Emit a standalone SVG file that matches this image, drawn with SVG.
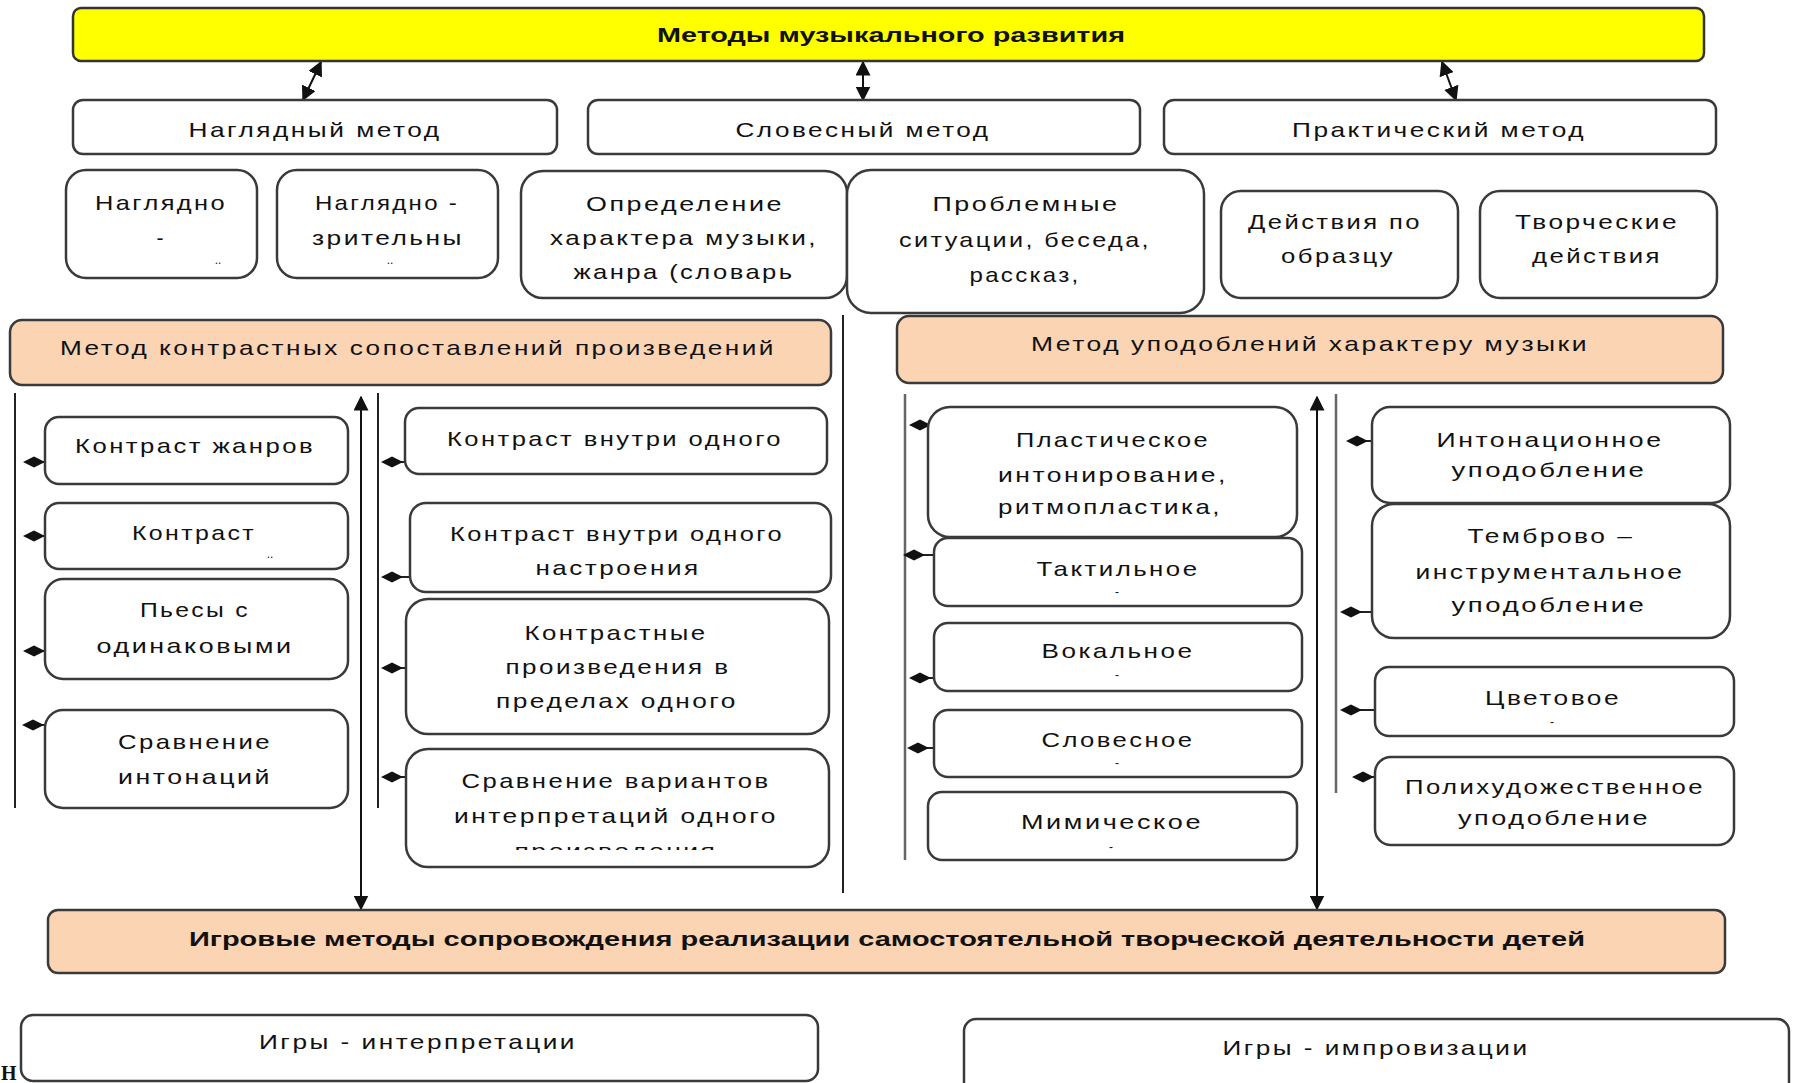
<svg xmlns="http://www.w3.org/2000/svg" xmlns:xlink="http://www.w3.org/1999/xlink" width="1793" height="1083" viewBox="0 0 1793 1083">
<style>
.bx{fill:#fff;stroke:#3a3a3a;stroke-width:2.5}
.yl{fill:#ffff00;stroke:#333;stroke-width:2.5}
.pc{fill:#fbd4b4;stroke:#3a3a3a;stroke-width:2.5}
.t{font-family:"Liberation Sans",Arial,sans-serif;font-size:21px;letter-spacing:2px;text-anchor:middle;fill:#111}
.b{font-weight:bold;font-size:20px;letter-spacing:0}
.s{font-family:"Liberation Sans",Arial,sans-serif;font-size:12px;text-anchor:middle;fill:#111}
.ln{stroke:#222;stroke-width:2;fill:none}
.lg{stroke:#666;stroke-width:2.5;fill:none}
.ar{stroke:#111;stroke-width:2;fill:none;marker-start:url(#ah);marker-end:url(#ah)}
</style>
<defs>
<marker id="ah" viewBox="0 0 10 10" refX="9" refY="5" markerUnits="userSpaceOnUse" markerWidth="15" markerHeight="15" orient="auto-start-reverse">
<path d="M0,0 L10,5 L0,10 Z" fill="#111"/>
</marker>
<path id="dm" d="M-11,0 L0,-5.5 L11,0 L0,5.5 Z" fill="#111"/>
<clipPath id="cl1"><rect x="400" y="740" width="440" height="110"/></clipPath>
</defs>
<rect width="1793" height="1083" fill="#fff"/>

<g id="connectors">
<line class="ar" x1="321" y1="62" x2="303" y2="100"/>
<line class="ar" x1="863" y1="62" x2="863" y2="100"/>
<line class="ar" x1="1442" y1="62" x2="1456" y2="100"/>
<line class="ln" x1="15" y1="393" x2="15" y2="808"/>
<line class="ln" x1="378" y1="393" x2="378" y2="808"/>
<line class="ln" x1="843" y1="315" x2="843" y2="893"/>
<line class="lg" x1="905" y1="394" x2="905" y2="860"/>
<line class="lg" x1="1336" y1="394" x2="1336" y2="793"/>
<line class="ar" x1="361" y1="397" x2="361" y2="909"/>
<line class="ar" x1="1317" y1="397" x2="1317" y2="909"/>
<g class="ln">
<line x1="34" y1="462" x2="46" y2="462"/><line x1="34" y1="536" x2="46" y2="536"/>
<line x1="34" y1="651" x2="46" y2="651"/><line x1="33" y1="725" x2="46" y2="725"/>
<line x1="392" y1="462" x2="406" y2="462"/><line x1="392" y1="577" x2="411" y2="577"/>
<line x1="392" y1="668" x2="407" y2="668"/><line x1="392" y1="777" x2="407" y2="777"/>
<line x1="920" y1="425" x2="929" y2="425"/><line x1="914" y1="555" x2="935" y2="555"/>
<line x1="920" y1="678" x2="935" y2="678"/><line x1="918" y1="748" x2="935" y2="748"/>
<line x1="1355" y1="441" x2="1373" y2="441"/><line x1="1351" y1="612" x2="1373" y2="612"/>
<line x1="1351" y1="710" x2="1376" y2="710"/><line x1="1363" y1="777" x2="1376" y2="777"/>
</g>
<use xlink:href="#dm" x="34" y="462"/><use xlink:href="#dm" x="34" y="536"/>
<use xlink:href="#dm" x="34" y="651"/><use xlink:href="#dm" x="33" y="725"/>
<use xlink:href="#dm" x="392" y="462"/><use xlink:href="#dm" x="392" y="577"/>
<use xlink:href="#dm" x="392" y="668"/><use xlink:href="#dm" x="392" y="777"/>
<use xlink:href="#dm" x="920" y="425"/><use xlink:href="#dm" x="914" y="555"/>
<use xlink:href="#dm" x="920" y="678"/><use xlink:href="#dm" x="918" y="748"/>
<use xlink:href="#dm" x="1357" y="441"/><use xlink:href="#dm" x="1351" y="612"/>
<use xlink:href="#dm" x="1351" y="710"/><use xlink:href="#dm" x="1363" y="777"/>
</g>

<g id="title"><rect class="yl" x="73" y="8" width="1631" height="53" rx="8"/>
<text class="t b" x="891" y="42" textLength="468" lengthAdjust="spacingAndGlyphs">Методы музыкального развития</text></g>

<g id="naglyadny"><rect class="bx" x="73" y="100" width="484" height="54" rx="10"/>
<text class="t" x="315" y="137" textLength="253" lengthAdjust="spacingAndGlyphs">Наглядный метод</text></g>
<g id="slovesny"><rect class="bx" x="588" y="100" width="552" height="54" rx="10"/>
<text class="t" x="863" y="137" textLength="255" lengthAdjust="spacingAndGlyphs">Словесный метод</text></g>
<g id="praktich"><rect class="bx" x="1164" y="100" width="552" height="54" rx="10"/>
<text class="t" x="1439" y="137" textLength="294" lengthAdjust="spacingAndGlyphs">Практический метод</text></g>

<g id="n1"><rect class="bx" x="66" y="170" width="191" height="108" rx="20"/>
<text class="t" x="161" y="210" textLength="132" lengthAdjust="spacingAndGlyphs">Наглядно</text>
<text class="t" x="161" y="245">-</text>
<text class="s" x="218" y="264">..</text></g>
<g id="n2"><rect class="bx" x="277" y="170" width="221" height="108" rx="20"/>
<text class="t" x="387" y="210" textLength="144" lengthAdjust="spacingAndGlyphs">Наглядно -</text>
<text class="t" x="388" y="245" textLength="152" lengthAdjust="spacingAndGlyphs">зрительны</text>
<text class="s" x="390" y="264">..</text></g>
<g id="n3"><rect class="bx" x="521" y="171" width="326" height="127" rx="22"/>
<text class="t" x="685" y="211" textLength="198" lengthAdjust="spacingAndGlyphs">Определение</text>
<text class="t" x="684" y="245" textLength="268" lengthAdjust="spacingAndGlyphs">характера музыки,</text>
<text class="t" x="684" y="279" textLength="221" lengthAdjust="spacingAndGlyphs">жанра (словарь</text></g>
<g id="n4"><rect class="bx" x="847" y="170" width="357" height="143" rx="24"/>
<text class="t" x="1026" y="211" textLength="187" lengthAdjust="spacingAndGlyphs">Проблемные</text>
<text class="t" x="1025" y="247" textLength="252" lengthAdjust="spacingAndGlyphs">ситуации, беседа,</text>
<text class="t" x="1025" y="282" textLength="111" lengthAdjust="spacingAndGlyphs">рассказ,</text></g>
<g id="n5"><rect class="bx" x="1221" y="191" width="237" height="107" rx="20"/>
<text class="t" x="1335" y="229" textLength="174" lengthAdjust="spacingAndGlyphs">Действия по</text>
<text class="t" x="1338" y="263" textLength="114" lengthAdjust="spacingAndGlyphs">образцу</text></g>
<g id="n6"><rect class="bx" x="1480" y="191" width="237" height="107" rx="20"/>
<text class="t" x="1597" y="229" textLength="164" lengthAdjust="spacingAndGlyphs">Творческие</text>
<text class="t" x="1597" y="263" textLength="130" lengthAdjust="spacingAndGlyphs">действия</text></g>

<g id="kontrast"><rect class="pc" x="10" y="320" width="821" height="65" rx="12"/>
<text class="t" x="418" y="355" textLength="716" lengthAdjust="spacingAndGlyphs">Метод контрастных сопоставлений произведений</text></g>
<g id="upodobl"><rect class="pc" x="897" y="316" width="826" height="67" rx="12"/>
<text class="t" x="1310" y="351" textLength="558" lengthAdjust="spacingAndGlyphs">Метод уподоблений характеру музыки</text></g>

<g id="c1"><rect class="bx" x="45" y="417" width="303" height="67" rx="14"/>
<text class="t" x="195" y="453" textLength="240" lengthAdjust="spacingAndGlyphs">Контраст жанров</text></g>
<g id="c2"><rect class="bx" x="45" y="503" width="303" height="66" rx="14"/>
<text class="t" x="194" y="540" textLength="124" lengthAdjust="spacingAndGlyphs">Контраст</text>
<text class="s" x="270" y="558">..</text></g>
<g id="c3"><rect class="bx" x="45" y="579" width="303" height="100" rx="18"/>
<text class="t" x="195" y="617" textLength="110" lengthAdjust="spacingAndGlyphs">Пьесы с</text>
<text class="t" x="195" y="653" textLength="197" lengthAdjust="spacingAndGlyphs">одинаковыми</text></g>
<g id="c4"><rect class="bx" x="45" y="710" width="303" height="98" rx="18"/>
<text class="t" x="195" y="749" textLength="154" lengthAdjust="spacingAndGlyphs">Сравнение</text>
<text class="t" x="195" y="784" textLength="154" lengthAdjust="spacingAndGlyphs">интонаций</text></g>

<g id="c5"><rect class="bx" x="405" y="408" width="422" height="66" rx="14"/>
<text class="t" x="615" y="446" textLength="336" lengthAdjust="spacingAndGlyphs">Контраст внутри одного</text></g>
<g id="c6"><rect class="bx" x="410" y="503" width="421" height="89" rx="16"/>
<text class="t" x="617" y="541" textLength="334" lengthAdjust="spacingAndGlyphs">Контраст внутри одного</text>
<text class="t" x="618" y="575" textLength="165" lengthAdjust="spacingAndGlyphs">настроения</text></g>
<g id="c7"><rect class="bx" x="406" y="599" width="423" height="135" rx="22"/>
<text class="t" x="616" y="640" textLength="183" lengthAdjust="spacingAndGlyphs">Контрастные</text>
<text class="t" x="618" y="674" textLength="225" lengthAdjust="spacingAndGlyphs">произведения в</text>
<text class="t" x="617" y="708" textLength="242" lengthAdjust="spacingAndGlyphs">пределах одного</text></g>
<g id="c8"><rect class="bx" x="406" y="749" width="423" height="118" rx="22"/>
<text class="t" x="616" y="788" textLength="309" lengthAdjust="spacingAndGlyphs">Сравнение вариантов</text>
<text class="t" x="616" y="823" textLength="324" lengthAdjust="spacingAndGlyphs">интерпретаций одного</text>
<text class="t" x="616" y="858" textLength="203" lengthAdjust="spacingAndGlyphs" clip-path="url(#cl1)">произведения</text></g>

<g id="u1"><rect class="bx" x="928" y="407" width="369" height="130" rx="22"/>
<text class="t" x="1113" y="447" textLength="194" lengthAdjust="spacingAndGlyphs">Пластическое</text>
<text class="t" x="1113" y="482" textLength="230" lengthAdjust="spacingAndGlyphs">интонирование,</text>
<text class="t" x="1110" y="514" textLength="224" lengthAdjust="spacingAndGlyphs">ритмопластика,</text></g>
<g id="u2"><rect class="bx" x="934" y="538" width="368" height="68" rx="14"/>
<text class="t" x="1118" y="576" textLength="163" lengthAdjust="spacingAndGlyphs">Тактильное</text>
<text class="s" x="1117" y="596">-</text></g>
<g id="u3"><rect class="bx" x="934" y="623" width="368" height="68" rx="14"/>
<text class="t" x="1118" y="658" textLength="153" lengthAdjust="spacingAndGlyphs">Вокальное</text>
<text class="s" x="1117" y="679">-</text></g>
<g id="u4"><rect class="bx" x="934" y="710" width="368" height="67" rx="14"/>
<text class="t" x="1118" y="747" textLength="153" lengthAdjust="spacingAndGlyphs">Словесное</text>
<text class="s" x="1117" y="767">-</text></g>
<g id="u5"><rect class="bx" x="928" y="792" width="369" height="68" rx="14"/>
<text class="t" x="1112" y="829" textLength="182" lengthAdjust="spacingAndGlyphs">Мимическое</text>
<text class="s" x="1111" y="851">-</text></g>

<g id="u6"><rect class="bx" x="1372" y="407" width="358" height="96" rx="18"/>
<text class="t" x="1550" y="447" textLength="227" lengthAdjust="spacingAndGlyphs">Интонационное</text>
<text class="t" x="1549" y="477" textLength="195" lengthAdjust="spacingAndGlyphs">уподобление</text></g>
<g id="u7"><rect class="bx" x="1372" y="504" width="358" height="134" rx="22"/>
<text class="t" x="1551" y="543" textLength="167" lengthAdjust="spacingAndGlyphs">Темброво –</text>
<text class="t" x="1550" y="579" textLength="269" lengthAdjust="spacingAndGlyphs">инструментальное</text>
<text class="t" x="1549" y="612" textLength="195" lengthAdjust="spacingAndGlyphs">уподобление</text></g>
<g id="u8"><rect class="bx" x="1375" y="667" width="359" height="69" rx="14"/>
<text class="t" x="1553" y="705" textLength="136" lengthAdjust="spacingAndGlyphs">Цветовое</text>
<text class="s" x="1552" y="726">-</text></g>
<g id="u9"><rect class="bx" x="1375" y="757" width="359" height="88" rx="16"/>
<text class="t" x="1555" y="794" textLength="300" lengthAdjust="spacingAndGlyphs">Полихудожественное</text>
<text class="t" x="1554" y="825" textLength="192" lengthAdjust="spacingAndGlyphs">уподобление</text></g>

<g id="igrovye"><rect class="pc" x="48" y="910" width="1677" height="63" rx="10"/>
<text class="t b" x="887" y="946" textLength="1396" lengthAdjust="spacingAndGlyphs">Игровые методы сопровождения реализации самостоятельной творческой деятельности детей</text></g>

<g id="interp"><rect class="bx" x="21" y="1015" width="797" height="66" rx="12"/>
<text class="t" x="418" y="1049" textLength="318" lengthAdjust="spacingAndGlyphs">Игры - интерпретации</text></g>
<g id="improv"><rect class="bx" x="964" y="1019" width="825" height="80" rx="12"/>
<text class="t" x="1376" y="1055" textLength="307" lengthAdjust="spacingAndGlyphs">Игры - импровизации</text></g>

<text x="1" y="1080" font-family="Liberation Serif, serif" font-weight="bold" font-size="20" fill="#111">Н</text>
</svg>
